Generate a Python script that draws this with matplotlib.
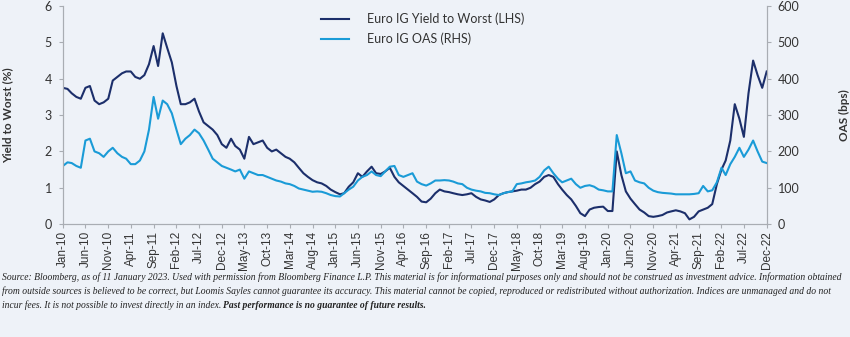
import numpy as np
import pandas as pd
import matplotlib.pyplot as plt

# monthly, Jan-2010 .. Dec-2022
dates = pd.date_range("2010-01-01", "2022-12-01", freq="MS")

# Euro IG Yield to Worst (%), LHS
ytw = [
    3.75, 3.72, 3.60, 3.50, 3.45, 3.75, 3.80, 3.40, 3.30, 3.35, 3.45, 3.95,  # 2010
    4.05, 4.15, 4.20, 4.20, 4.05, 4.00, 4.10, 4.40, 4.90, 4.35, 5.25, 4.85,  # 2011
    4.45, 3.80, 3.30, 3.30, 3.35, 3.45, 3.10, 2.80, 2.70, 2.60, 2.45, 2.20,  # 2012
    2.10, 2.35, 2.15, 2.05, 1.80, 2.40, 2.20, 2.25, 2.30, 2.10, 2.00, 2.05,  # 2013
    1.95, 1.85, 1.80, 1.70, 1.55, 1.40, 1.30, 1.21, 1.15, 1.12, 1.05, 0.95,  # 2014
    0.88, 0.82, 0.85, 1.03, 1.15, 1.40, 1.30, 1.45, 1.58, 1.40, 1.38, 1.45,  # 2015
    1.55, 1.30, 1.15, 1.05, 0.95, 0.85, 0.75, 0.62, 0.60, 0.70, 0.85, 0.95,  # 2016
    0.90, 0.88, 0.85, 0.82, 0.80, 0.82, 0.85, 0.75, 0.68, 0.65, 0.61, 0.68,  # 2017
    0.80, 0.85, 0.88, 0.90, 0.92, 0.95, 0.95, 1.00, 1.10, 1.17, 1.30, 1.35,  # 2018
    1.30, 1.10, 0.95, 0.80, 0.68, 0.50, 0.30, 0.22, 0.40, 0.45, 0.47, 0.48,  # 2019
    0.36, 0.36, 2.00, 1.35, 0.90, 0.70, 0.55, 0.40, 0.32, 0.22, 0.20, 0.22,  # 2020
    0.25, 0.32, 0.35, 0.38, 0.35, 0.30, 0.13, 0.20, 0.35, 0.40, 0.45, 0.55,  # 2021
    1.10, 1.50, 1.75, 2.30, 3.30, 2.90, 2.40, 3.60, 4.50, 4.10, 3.75, 4.20,  # 2022
]

# Euro IG OAS (bps), RHS
oas = [
    160, 170, 168, 160, 155, 230, 235, 200, 195, 185, 200, 210,  # 2010
    195, 185, 180, 165, 165, 175, 200, 260, 350, 290, 340, 330,  # 2011
    305, 260, 220, 235, 245, 260, 250, 230, 205, 180, 170, 160,  # 2012
    155, 150, 145, 150, 125, 145, 140, 135, 135, 130, 125, 120,  # 2013
    117, 112, 110, 105, 98, 95, 92, 89, 90, 89, 85, 80,  # 2014
    77, 76, 85, 95, 103, 120, 130, 135, 145, 135, 132, 145,  # 2015
    158, 160, 135, 130, 135, 140, 117, 110, 106, 112, 120, 120,  # 2016
    121, 120, 117, 112, 110, 100, 95, 92, 90, 86, 85, 82,  # 2017
    80, 85, 88, 90, 110, 112, 115, 117, 120, 130, 148, 158,  # 2018
    140, 125, 115, 120, 125, 110, 100, 105, 107, 103, 95, 93,  # 2019
    90, 90, 245, 195, 140, 145, 120, 115, 112, 100, 92, 88,  # 2020
    86, 85, 84, 82, 82, 82, 82, 83, 85, 105, 90, 93,  # 2021
    115, 155, 135, 165, 185, 210, 185, 205, 230, 200, 172, 168,  # 2022
]

label_ytw = "Euro IG Yield to Worst (LHS)"
label_oas = "Euro IG OAS (RHS)"

footnote = [
    "Source: Bloomberg, as of 11 January 2023. Used with permission from Bloomberg Finance L.P. This material is for informational purposes only and should not be construed as investment advice. Information obtained",
    "from outside sources is believed to be correct, but Loomis Sayles cannot guarantee its accuracy. This material cannot be copied, reproduced or redistributed without authorization. Indices are unmanaged and do not",
    "incur fees. It is not possible to invest directly in an index. ",
]
footnote_bold = "Past performance is no guarantee of future results."

bg = "#eef2f8"
navy = "#1c2f6b"
sky = "#1a9bd7"
grey = "#a9adb3"
txt = "#333333"

fig = plt.figure(figsize=(8.5, 3.37), dpi=100, facecolor=bg)
ax = fig.add_axes([0.074, 0.335, 0.828, 0.647], facecolor=bg)
ax2 = ax.twinx()

l1, = ax.plot(dates, ytw, color=navy, lw=1.5, label=label_ytw)
l2, = ax2.plot(dates, oas, color=sky, lw=1.5, label=label_oas)

ax.set_xlim(dates[0], dates[-1])
ax.set_ylim(0, 6)
ax2.set_ylim(0, 600)
ax.set_yticks(range(0, 7))
ax2.set_yticks(range(0, 601, 100))

ticks = dates[::5]
ax.set_xticks(ticks)
ax.set_xticklabels([d.strftime("%b-%y") for d in ticks], rotation=90,
                   fontsize=8.5, color=txt, family="Liberation Sans")

for a in (ax, ax2):
    for s in a.spines.values():
        s.set_color(grey)
    a.spines["top"].set_visible(False)
ax.tick_params(axis="x", length=3, color=grey, pad=2)
ax.tick_params(axis="y", length=3, color=grey, labelsize=9, labelcolor=txt, pad=5)
ax2.tick_params(axis="y", length=3, color=grey, labelsize=9, labelcolor=txt, pad=5)
for lab in ax.get_yticklabels() + ax2.get_yticklabels():
    lab.set_family("Lato")

ax.set_ylabel("Yield to Worst (%)", fontsize=8.5, fontweight="bold", color=txt,
              family="Lato")
ax.yaxis.set_label_coords(-0.071, 0.5)
ax2.set_ylabel("OAS (bps)", fontsize=8.5, fontweight="bold", color=txt,
               family="Lato", rotation=90)
ax2.yaxis.set_label_coords(1.103, 0.5)

fig.legend(handles=[l1, l2], loc="upper left", bbox_to_anchor=(0.364, 0.995),
           frameon=False, handlelength=2.3, handletextpad=1.4,
           labelspacing=0.55, prop={"family": "Lato", "size": 9}, labelcolor=txt)

ys = [0.170, 0.128, 0.087]
t = None
for i, line in enumerate(footnote):
    t = fig.text(0.002, ys[i], line, fontsize=6.9, style="italic",
                 family="Liberation Serif", color="#222222", va="baseline")
ax.annotate(footnote_bold, xy=(1, 0), xycoords=t, va="bottom", fontsize=6.9,
            style="italic", fontweight="bold", family="Liberation Serif",
            color="#222222", annotation_clip=False)

fig.savefig("out.png", dpi=100, facecolor=bg)
